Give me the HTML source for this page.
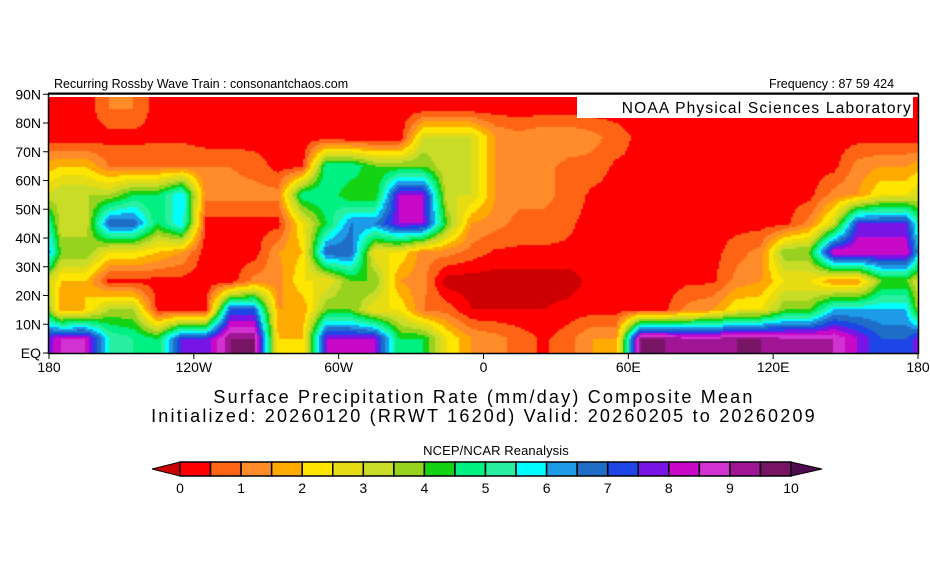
<!DOCTYPE html>
<html><head><meta charset="utf-8">
<style>
body{margin:0;background:#fff;width:930px;height:580px;position:relative;overflow:hidden;font-family:"Liberation Sans",sans-serif;}
.t{position:absolute;white-space:nowrap;color:#000;}
</style></head>
<body>
<div class="t" style="left:54px;top:77px;font-size:12.5px;">Recurring Rossby Wave Train : consonantchaos.com</div>
<div class="t" style="left:769px;top:77px;font-size:12.5px;">Frequency : 87 59 424</div>
<svg width="930" height="580" style="position:absolute;left:0;top:0">
  <line x1="48" y1="93.5" x2="918" y2="93.5" stroke="#000" stroke-width="2"/>
  <foreignObject x="49" y="97" width="869" height="256">
    <canvas id="cv" width="869" height="256" xmlns="http://www.w3.org/1999/xhtml"></canvas>
  </foreignObject>
  <rect x="577" y="97" width="336" height="21" fill="#fff"/>
  <text x="912" y="113" text-anchor="end" font-size="15.5" letter-spacing="1.2" font-family="Liberation Sans, sans-serif">NOAA Physical Sciences Laboratory</text>
  <rect x="48.5" y="94" width="870" height="259.5" fill="none" stroke="#000" stroke-width="1.5"/>
  <g id="axes" font-family="Liberation Sans, sans-serif" font-size="14"></g>
  <text x="484" y="403" text-anchor="middle" font-size="18" letter-spacing="2.2" font-family="Liberation Sans, sans-serif">Surface Precipitation Rate (mm/day) Composite Mean</text>
  <text x="484" y="422" text-anchor="middle" font-size="18" letter-spacing="2.2" font-family="Liberation Sans, sans-serif">Initialized: 20260120 (RRWT 1620d) Valid: 20260205 to 20260209</text>
  <text x="496" y="455" text-anchor="middle" font-size="13" letter-spacing="0.1" font-family="Liberation Sans, sans-serif">NCEP/NCAR Reanalysis</text>
  <g id="cbar"></g>
</svg>
<script>
const latTicks=["EQ","10N","20N","30N","40N","50N","60N","70N","80N","90N"];
const lonTicks=["180","120W","60W","0","60E","120E","180"];
const cbarLabels=[0,1,2,3,4,5,6,7,8,9,10];
const binColors=["#cc0000","#ff0000","#ff6414","#ff8c28","#ffaa00","#ffe600","#e6dc14","#c8dc28","#96d21e","#14d214","#00f082","#28f0a0","#00ffff","#1e9be6","#1e6ec8","#1e46e6","#7814e6","#c80ac8","#d232d2","#a01496","#781464","#500a50"];
// rows: lat bands 0-10N ... 80-90N ; columns: 10° lon from 180W eastward
const row0=[8.5,8.5,5.5,5,4.5,7.5,7.5,9.5,9.5,2,2,8,8,8,4.5,4.5,2.5,1.5,1.2,0.8,0.4,0.8,1.5,1.5,9.5,9.5,9,9,9.5,9.5,9,9,9,8,7,7];
const row1=[1.5,2,3.5,3.5,0.3,0.3,0.3,7,7,1.5,1.5,4,4,2.5,2.5,1,0.8,0,0,0,0,0.2,0.3,0.3,0.4,0.4,1.2,1.5,2.5,2.5,4,4,6,6,6,6];
const row2=[2,2,0.3,0.3,0.3,0.3,0.2,0.2,1.2,1.2,2.5,2.5,4,4,1.5,1.2,-0.3,-0.3,-0.3,-0.3,-0.3,-0.3,0.2,0.2,0.2,0.2,0.4,0.4,1.2,1.5,2.5,2.5,1.5,1.5,4,4];
const row3=[4,4,2.5,2.5,2,1.5,0.2,0.2,0.2,1.5,2,7,7,2.5,2.5,1.2,1.2,0.8,0.4,0.4,0.4,0.4,0.3,0.3,0.3,0.3,0.3,0.3,0.8,1.2,4,4,8.5,8.5,8.5,8.5];
const row4=[3,3,7,7,4.5,6,0.3,0.3,0.3,0.3,2.5,4.5,6.5,6.5,8,8,4,1.5,1.2,0.8,0.8,0.6,0.3,0.3,0.3,0.3,0.3,0.3,0.3,0.3,0.3,1.2,3,7.5,7.5,7.5];
const row5=[3.5,3.5,3.5,4.5,4.5,6,1.2,1.2,1.2,1.2,5,5,4,4,8,8,3,3,1.5,1.2,1.2,0.8,0.4,0.3,0.3,0.3,0.3,0.3,0.3,0.3,0.3,0.3,1.2,1.5,2.5,2.5];
const row6=[2,2,1,1,1,1,1,1,0.8,0.3,0.3,5,5,4,4,4,3,3,1.5,1.2,1.2,0.8,0.8,0.4,0.4,0.3,0.3,0.3,0.3,0.3,0.3,0.3,0.3,1.2,1.5,1.5];
const row7=[0.2,0.2,0.3,0.3,0.4,0.4,0.2,0.2,0.2,0.2,0.2,0.2,0,0,0,3,3,3,1.5,1.2,1.5,1.5,1.2,0.8,0.3,0.3,0.3,0.3,0.3,0.3,0.3,0.3,0.3,0.3,0.3,0.3];
const row8=[0.2,0.2,1,1,0.2,0.2,0.2,0.2,0.2,0.2,0.2,0.2,0.2,0.2,0.2,0.2,0.2,0.2,0.2,0.2,0.2,0.2,0.2,0.2,0.2,0.2,0.2,0.2,0.2,0.2,0.2,0.2,0.2,0.2,0.2,0.2];
const rows=[row0,row1,row2,row3,row4,row5,row6,row7,row8];

const X0=49,X1=918,Y_EQ=353,PX_PER_DEG_LAT=2.875;
function xLon(lon){return X0+(lon+180)/360*(X1-X0);}
function yLat(lat){return Y_EQ-lat*PX_PER_DEG_LAT;}
function colorFor(v){if(v<0)return binColors[0];if(v>=10)return binColors[21];return binColors[1+Math.floor(v*2)];}

const cv=document.getElementById('cv');const ctx=cv.getContext('2d');
function sample(lat,lon){
  let fi=(lat-5)/10, fj=(lon+175)/10;
  fi=Math.max(0,Math.min(rows.length-1,fi));
  const nC=rows[0].length;
  const i0=Math.floor(fi),i1=Math.min(rows.length-1,i0+1),ti=fi-i0;
  let j0=Math.floor(fj),tj=fj-j0;let j1=j0+1;
  j0=(j0%nC+nC)%nC;j1=(j1%nC+nC)%nC;
  const a=rows[i0][j0]*(1-tj)+rows[i0][j1]*tj;
  const b=rows[i1][j0]*(1-tj)+rows[i1][j1]*tj;
  return a*(1-ti)+b*ti;
}
for(let py=0;py<256;py+=2){
  for(let px=0;px<869;px+=2){
    const lon=(px+1)/(X1-X0)*360-180;
    const lat=(Y_EQ-(py+97+1))/PX_PER_DEG_LAT;
    ctx.fillStyle=colorFor(sample(lat,lon));
    ctx.fillRect(px,py,2,2);
  }
}

const NS="http://www.w3.org/2000/svg";
const ax=document.getElementById('axes');
latTicks.forEach((lb,i)=>{
  const y=yLat(i*10);
  const t=document.createElementNS(NS,'line');
  
  
  t.setAttribute('x1',43);t.setAttribute('x2',49);t.setAttribute('y1',y);t.setAttribute('y2',y);t.setAttribute('stroke','#000');
  ax.appendChild(t);
  const tx=document.createElementNS(NS,'text');
  
  
  tx.setAttribute('x',41);tx.setAttribute('y',y+5);tx.setAttribute('text-anchor','end');tx.textContent=lb;
  ax.appendChild(tx);
});
lonTicks.forEach((lb,i)=>{
  const x=xLon(-180+i*60);
  const t=document.createElementNS(NS,'line');
  
  
  t.setAttribute('x1',x);t.setAttribute('x2',x);t.setAttribute('y1',353);t.setAttribute('y2',359);t.setAttribute('stroke','#000');
  ax.appendChild(t);
  const tx=document.createElementNS(NS,'text');
  
  
  tx.setAttribute('x',x);tx.setAttribute('y',372);tx.setAttribute('text-anchor','middle');tx.textContent=lb;
  ax.appendChild(tx);
});

const cb=document.getElementById('cbar');
const CB0=180,CB1=791,CBY=462,CBH=14;
function cbX(v){return CB0+v/10*(CB1-CB0);}
const lt=document.createElementNS(NS,'polygon');


lt.setAttribute('points',`${CB0},${CBY} ${CB0},${CBY+CBH} 152,${CBY+CBH/2}`);lt.setAttribute('fill',binColors[0]);lt.setAttribute('stroke','#000');
cb.appendChild(lt);
const rt=document.createElementNS(NS,'polygon');


rt.setAttribute('points',`${CB1},${CBY} ${CB1},${CBY+CBH} 822,${CBY+CBH/2}`);rt.setAttribute('fill',binColors[21]);rt.setAttribute('stroke','#000');
cb.appendChild(rt);
for(let k=0;k<20;k++){
  const r=document.createElementNS(NS,'rect');
  
  
  r.setAttribute('x',cbX(k*0.5));r.setAttribute('y',CBY);r.setAttribute('width',cbX(0.5)-CB0);r.setAttribute('height',CBH);
  r.setAttribute('fill',binColors[k+1]);r.setAttribute('stroke','#000');r.setAttribute('stroke-width','1.5');
  cb.appendChild(r);
}
cbarLabels.forEach(v=>{
  const tx=document.createElementNS(NS,'text');
  
  
  tx.setAttribute('x',cbX(v));tx.setAttribute('y',493);tx.setAttribute('text-anchor','middle');
  tx.setAttribute('font-size','14');tx.setAttribute('font-family','Liberation Sans, sans-serif');
  tx.textContent=v;cb.appendChild(tx);
});
</script>
</body></html>
